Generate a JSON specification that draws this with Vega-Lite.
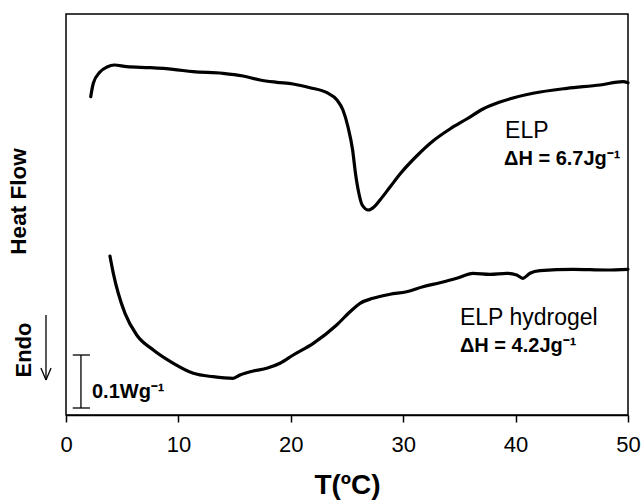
{
  "$schema": "https://vega.github.io/schema/vega-lite/v6.json",
  "width": 562,
  "height": 401,
  "autosize": {"type": "none"},
  "padding": {"left": 66, "top": 14, "right": 15, "bottom": 88},
  "background": "white",
  "config": {
    "view": {"stroke": "black", "strokeWidth": 1.5},
    "font": "Liberation Sans",
    "axis": {"grid": false, "labelFont": "Liberation Sans", "titleFont": "Liberation Sans", "labelColor": "black", "titleColor": "black", "domainColor": "black", "tickColor": "black"}
  },
  "datasets": {
    "curves": [
      {"T": 2.20, "v": 318.3, "series": "ELP"},
      {"T": 2.43, "v": 331.7, "series": "ELP"},
      {"T": 3.02, "v": 343, "series": "ELP"},
      {"T": 3.65, "v": 348, "series": "ELP"},
      {"T": 4.30, "v": 350, "series": "ELP"},
      {"T": 5.40, "v": 348.3, "series": "ELP"},
      {"T": 7.47, "v": 347.3, "series": "ELP"},
      {"T": 9.52, "v": 345.7, "series": "ELP"},
      {"T": 11.30, "v": 343.3, "series": "ELP"},
      {"T": 13.97, "v": 341.7, "series": "ELP"},
      {"T": 15.75, "v": 339, "series": "ELP"},
      {"T": 17.26, "v": 335, "series": "ELP"},
      {"T": 18.77, "v": 332.7, "series": "ELP"},
      {"T": 20.20, "v": 331, "series": "ELP"},
      {"T": 21.71, "v": 327.3, "series": "ELP"},
      {"T": 23.22, "v": 322.3, "series": "ELP"},
      {"T": 24.11, "v": 315, "series": "ELP"},
      {"T": 24.64, "v": 305, "series": "ELP"},
      {"T": 25.09, "v": 288, "series": "ELP"},
      {"T": 25.5, "v": 265, "series": "ELP"},
      {"T": 25.75, "v": 242, "series": "ELP"},
      {"T": 26.05, "v": 222, "series": "ELP"},
      {"T": 26.35, "v": 210, "series": "ELP"},
      {"T": 26.9, "v": 205, "series": "ELP"},
      {"T": 27.4, "v": 208, "series": "ELP"},
      {"T": 27.94, "v": 215, "series": "ELP"},
      {"T": 28.83, "v": 228, "series": "ELP"},
      {"T": 29.72, "v": 241, "series": "ELP"},
      {"T": 31.20, "v": 259, "series": "ELP"},
      {"T": 32.65, "v": 274, "series": "ELP"},
      {"T": 34.16, "v": 286, "series": "ELP"},
      {"T": 35.65, "v": 296, "series": "ELP"},
      {"T": 37.10, "v": 306, "series": "ELP"},
      {"T": 38.61, "v": 313, "series": "ELP"},
      {"T": 41.55, "v": 321.7, "series": "ELP"},
      {"T": 44.57, "v": 326.7, "series": "ELP"},
      {"T": 47.51, "v": 330, "series": "ELP"},
      {"T": 49.56, "v": 333.3, "series": "ELP"},
      {"T": 50, "v": 332.3, "series": "ELP"},
      {"T": 3.91, "v": 159, "series": "ELP hydrogel"},
      {"T": 4.21, "v": 141.7, "series": "ELP hydrogel"},
      {"T": 4.65, "v": 121.7, "series": "ELP hydrogel"},
      {"T": 5.25, "v": 101.7, "series": "ELP hydrogel"},
      {"T": 6.29, "v": 80, "series": "ELP hydrogel"},
      {"T": 7.77, "v": 65, "series": "ELP hydrogel"},
      {"T": 9.55, "v": 51.7, "series": "ELP hydrogel"},
      {"T": 11.33, "v": 41.7, "series": "ELP hydrogel"},
      {"T": 13.08, "v": 38.3, "series": "ELP hydrogel"},
      {"T": 14.86, "v": 36.7, "series": "ELP hydrogel"},
      {"T": 15.48, "v": 40, "series": "ELP hydrogel"},
      {"T": 16.67, "v": 44, "series": "ELP hydrogel"},
      {"T": 17.86, "v": 46.7, "series": "ELP hydrogel"},
      {"T": 19.04, "v": 51.7, "series": "ELP hydrogel"},
      {"T": 20.22, "v": 60, "series": "ELP hydrogel"},
      {"T": 22.0, "v": 71.7, "series": "ELP hydrogel"},
      {"T": 24.08, "v": 90, "series": "ELP hydrogel"},
      {"T": 25.27, "v": 103.3, "series": "ELP hydrogel"},
      {"T": 26.16, "v": 111.7, "series": "ELP hydrogel"},
      {"T": 27.31, "v": 116.7, "series": "ELP hydrogel"},
      {"T": 28.83, "v": 120.7, "series": "ELP hydrogel"},
      {"T": 30.31, "v": 123.3, "series": "ELP hydrogel"},
      {"T": 31.76, "v": 128.3, "series": "ELP hydrogel"},
      {"T": 33.27, "v": 132.3, "series": "ELP hydrogel"},
      {"T": 34.76, "v": 136.7, "series": "ELP hydrogel"},
      {"T": 36.21, "v": 141.7, "series": "ELP hydrogel"},
      {"T": 37.72, "v": 140.7, "series": "ELP hydrogel"},
      {"T": 39.21, "v": 141.7, "series": "ELP hydrogel"},
      {"T": 40.10, "v": 140, "series": "ELP hydrogel"},
      {"T": 40.63, "v": 136.7, "series": "ELP hydrogel"},
      {"T": 41.28, "v": 141.7, "series": "ELP hydrogel"},
      {"T": 42.17, "v": 144.3, "series": "ELP hydrogel"},
      {"T": 45.11, "v": 145.7, "series": "ELP hydrogel"},
      {"T": 48.10, "v": 145, "series": "ELP hydrogel"},
      {"T": 50, "v": 145.7, "series": "ELP hydrogel"}
    ],
    "rules": [
      {"x": 1.33, "x2": 1.33, "y": 7, "y2": 60},
      {"x": 0.6, "x2": 2.13, "y": 7, "y2": 7},
      {"x": 0.6, "x2": 2.13, "y": 60, "y2": 60},
      {"x": -1.78, "x2": -1.78, "y": 100, "y2": 35},
      {"x": -2.23, "x2": -1.78, "y": 47, "y2": 35},
      {"x": -1.33, "x2": -1.78, "y": 47, "y2": 35}
    ],
    "regular": [
      {"T": 39.06, "v": 277, "label": "ELP"},
      {"T": 35.05, "v": 90, "label": "ELP hydrogel"}
    ],
    "bold": [
      {"T": 38.97, "v": 250, "label": "ΔH = 6.7Jg⁻¹"},
      {"T": 35.05, "v": 63, "label": "ΔH = 4.2Jg⁻¹"},
      {"T": 2.31, "v": 17, "label": "0.1Wg⁻¹"}
    ],
    "endo": [
      {"T": -3.74, "v": 65, "label": "Endo"}
    ]
  },
  "layer": [
    {
      "data": {"name": "curves"},
      "mark": {"type": "line", "color": "black", "strokeWidth": 3.2, "strokeJoin": "round", "strokeCap": "round", "interpolate": "monotone"},
      "encoding": {
        "x": {"field": "T", "type": "quantitative", "scale": {"domain": [0, 50], "nice": false, "zero": false},
          "axis": {"values": [0, 10, 20, 30, 40, 50], "title": "T(ºC)", "titleFontSize": 28, "titleFontWeight": "bold", "titlePadding": 16,
            "labelFontSize": 22, "labelPadding": 12, "tickSize": 7, "tickWidth": 1.5, "domainWidth": 1.5, "labelFlush": false}},
        "y": {"field": "v", "type": "quantitative", "scale": {"domain": [0, 401], "nice": false, "zero": false},
          "axis": {"title": "Heat Flow", "titleFontSize": 22.5, "titleFontWeight": "bold", "ticks": false, "labels": false, "domain": false,
            "titleAngle": 270, "titleAlign": "center", "titleBaseline": "middle", "titleX": -48, "titleY": 187}},
        "detail": {"field": "series", "type": "nominal"}
      }
    },
    {
      "data": {"name": "rules"},
      "mark": {"type": "rule", "color": "black", "strokeWidth": 1.3},
      "encoding": {
        "x": {"field": "x", "type": "quantitative"},
        "x2": {"field": "x2"},
        "y": {"field": "y", "type": "quantitative"},
        "y2": {"field": "y2"}
      }
    },
    {
      "data": {"name": "regular"},
      "mark": {"type": "text", "align": "left", "baseline": "alphabetic", "fontSize": 23, "color": "black", "font": "Liberation Sans"},
      "encoding": {
        "x": {"field": "T", "type": "quantitative"},
        "y": {"field": "v", "type": "quantitative"},
        "text": {"field": "label"}
      }
    },
    {
      "data": {"name": "bold"},
      "mark": {"type": "text", "align": "left", "baseline": "alphabetic", "fontSize": 20, "fontWeight": "bold", "color": "black", "font": "Liberation Sans"},
      "encoding": {
        "x": {"field": "T", "type": "quantitative"},
        "y": {"field": "v", "type": "quantitative"},
        "text": {"field": "label"}
      }
    },
    {
      "data": {"name": "endo"},
      "mark": {"type": "text", "align": "center", "baseline": "middle", "angle": 270, "fontSize": 22, "fontWeight": "bold", "color": "black", "font": "Liberation Sans"},
      "encoding": {
        "x": {"field": "T", "type": "quantitative"},
        "y": {"field": "v", "type": "quantitative"},
        "text": {"field": "label"}
      }
    }
  ]
}
